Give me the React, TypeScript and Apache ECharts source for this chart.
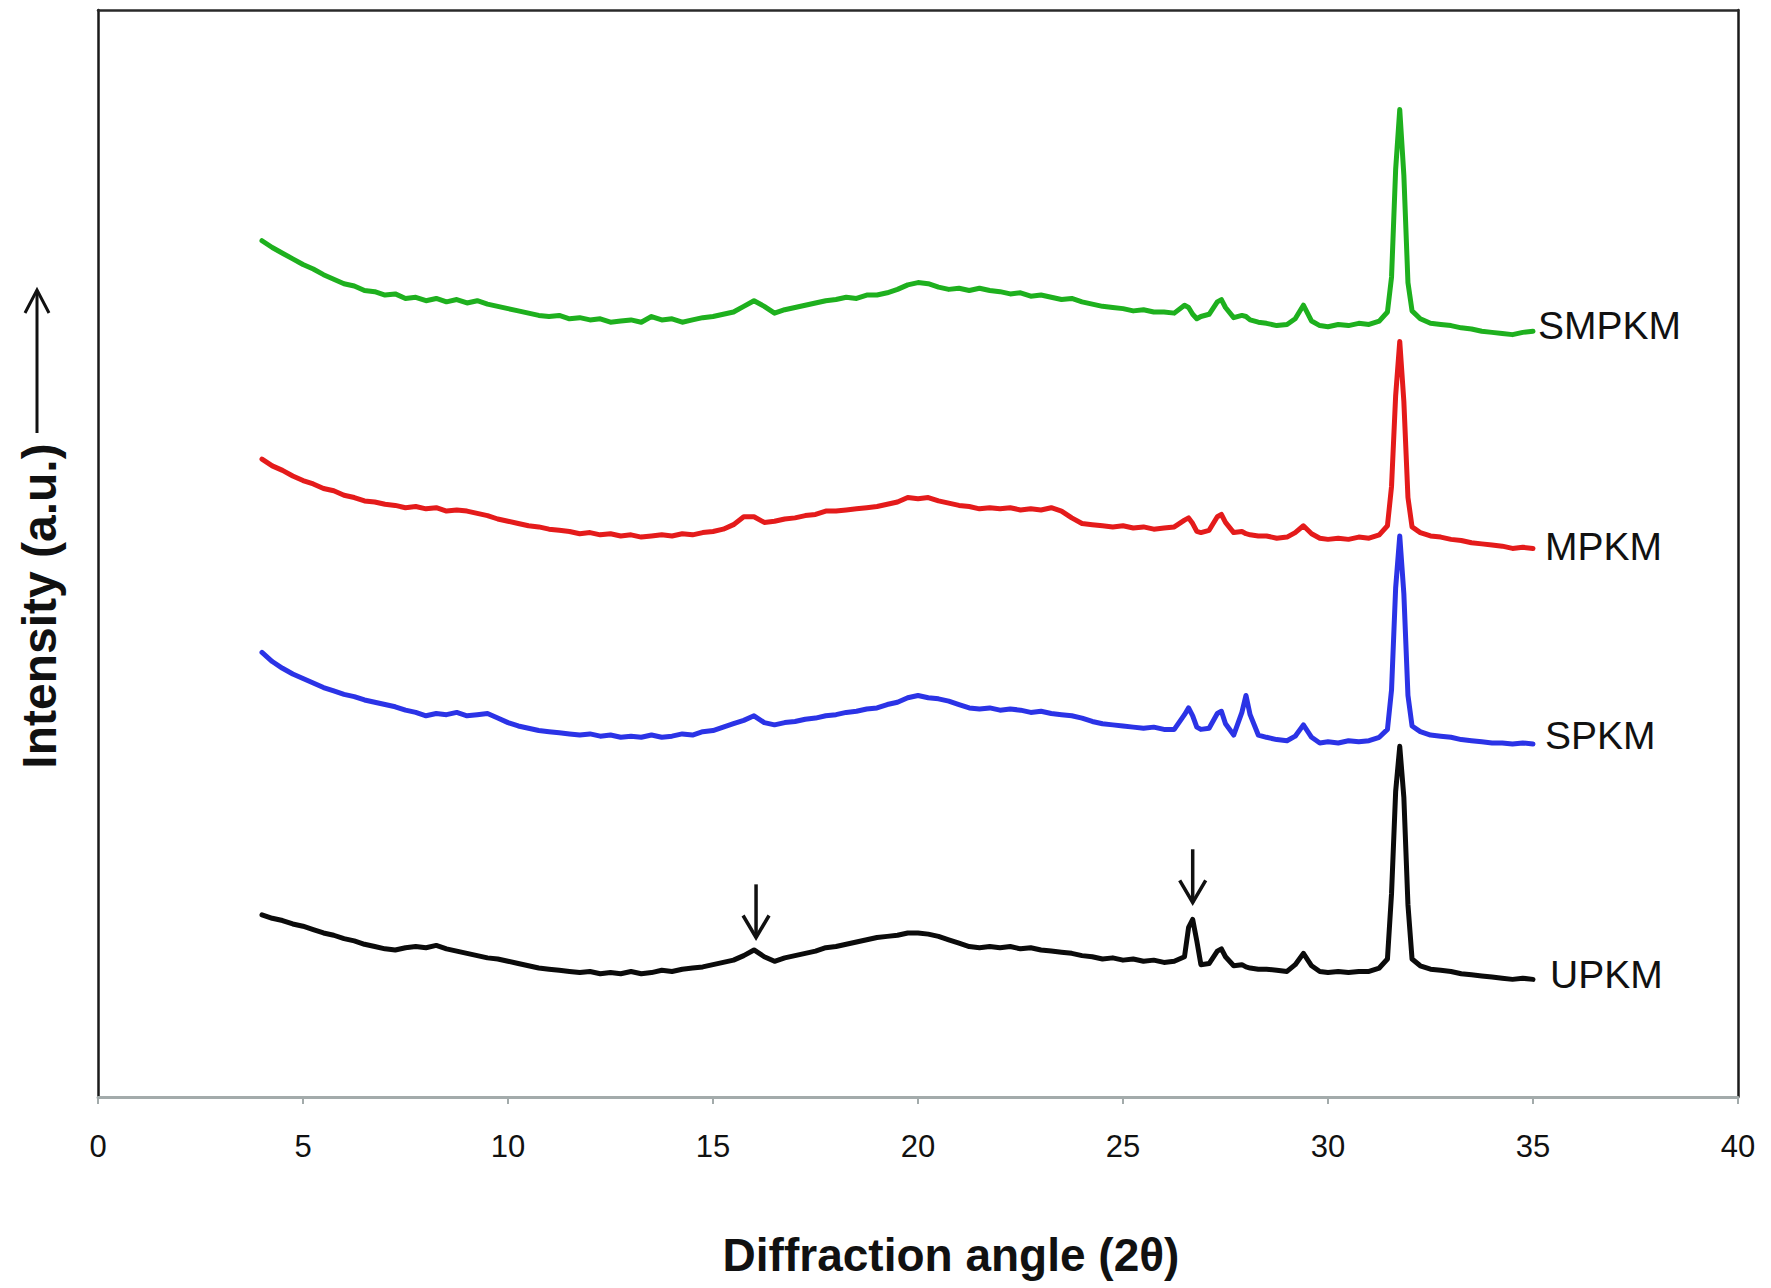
import React, { useEffect, useRef } from "react";
import * as echarts from "echarts";

// Diffraction angle (2θ) sampling positions
const angles = [
  4, 4.25, 4.5, 4.75, 5, 5.25, 5.5, 5.75, 6, 6.25,
  6.5, 6.75, 7, 7.25, 7.5, 7.75, 8, 8.25, 8.5, 8.75,
  9, 9.25, 9.5, 9.75, 10, 10.25, 10.5, 10.75, 11, 11.25,
  11.5, 11.75, 12, 12.25, 12.5, 12.75, 13, 13.25, 13.5, 13.75,
  14, 14.25, 14.5, 14.75, 15, 15.25, 15.5, 15.75, 16, 16.25,
  16.5, 16.75, 17, 17.25, 17.5, 17.75, 18, 18.25, 18.5, 18.75,
  19, 19.25, 19.5, 19.75, 20, 20.25, 20.5, 20.75, 21, 21.25,
  21.5, 21.75, 22, 22.25, 22.5, 22.75, 23, 23.25, 23.5, 23.75,
  24, 24.25, 24.5, 24.75, 25, 25.25, 25.5, 25.75, 26, 26.25,
  26.5, 26.6, 26.7, 26.8, 26.9, 27.1, 27.3, 27.4, 27.5, 27.7,
  27.9, 28, 28.1, 28.3, 28.5, 28.75, 29, 29.2, 29.4, 29.6,
  29.8, 30, 30.25, 30.5, 30.75, 31, 31.25, 31.45, 31.55, 31.65,
  31.75, 31.85, 31.95, 32.05, 32.25, 32.5, 32.75, 33, 33.25, 33.5,
  33.75, 34, 34.25, 34.5, 34.75, 35,
];

// Intensities (a.u., offset traces as drawn)
const smpkm = [
  757, 751, 746, 741, 736, 732, 727, 723, 719, 717,
  713, 712, 709, 710, 706, 707, 704, 706, 703, 705,
  702, 704, 701, 699, 697, 695, 693, 691, 690, 691,
  688, 689, 687, 688, 685, 686, 687, 685, 690, 687,
  688, 685, 687, 689, 690, 692, 694, 699, 704, 699,
  693, 696, 698, 700, 702, 704, 705, 707, 706, 709,
  709, 711, 714, 718, 720, 719, 716, 714, 715, 713,
  715, 713, 712, 710, 711, 708, 709, 707, 705, 706,
  703, 701, 699, 698, 697, 695, 696, 694, 694, 693,
  700, 698, 692, 688, 690, 692, 703, 705, 698, 689,
  691, 690, 687, 685, 684, 682, 683, 688, 700, 686,
  682, 681, 683, 682, 684, 683, 686, 694, 725, 820,
  873, 815, 720, 695, 688, 684, 683, 682, 680, 679,
  677, 676, 675, 674, 676, 677,
];

const mpkm = [
  564, 558, 554, 549, 545, 542, 538, 536, 532, 530,
  527, 526, 524, 523, 521, 522, 520, 521, 518, 519,
  518, 516, 514, 511, 509, 507, 505, 504, 502, 501,
  500, 498, 499, 497, 498, 496, 497, 495, 496, 497,
  496, 498, 497, 499, 500, 502, 506, 513, 513, 508,
  509, 511, 512, 514, 515, 518, 518, 519, 520, 521,
  522, 524, 526, 530, 529, 530, 527, 525, 523, 522,
  520, 521, 520, 521, 519, 520, 519, 521, 518, 512,
  507, 506, 505, 504, 505, 503, 504, 502, 503, 504,
  510, 512, 507, 500, 499, 501, 513, 515, 508, 499,
  500, 498, 497, 496, 496, 494, 495, 499, 505, 498,
  494, 493, 494, 493, 495, 494, 497, 505, 540, 620,
  668, 615, 530, 504, 499, 496, 495, 493, 492, 490,
  489, 488, 487, 485, 486, 485,
];

const spkm = [
  393, 385, 379, 374, 370, 366, 362, 359, 356, 354,
  351, 349, 347, 345, 342, 340, 337, 339, 338, 340,
  337, 338, 339, 335, 331, 328, 326, 324, 323, 322,
  321, 320, 321, 319, 320, 318, 319, 318, 320, 318,
  319, 321, 320, 323, 324, 327, 330, 333, 337, 331,
  329, 331, 332, 334, 335, 337, 338, 340, 341, 343,
  344, 347, 349, 353, 355, 353, 352, 350, 347, 344,
  343, 344, 342, 343, 342, 340, 341, 339, 338, 337,
  335, 332, 330, 329, 328, 327, 326, 327, 325, 325,
  338, 344, 337, 327, 325, 326, 339, 341, 330, 320,
  340, 355, 338, 320, 318, 316, 315, 319, 329, 318,
  313, 314, 313, 315, 314, 315, 318, 325, 360, 450,
  496, 445, 355, 328, 323, 320, 319, 318, 316, 315,
  314, 313, 313, 312, 313, 312,
];

const upkm = [
  161, 158, 156, 153, 151, 148, 145, 143, 140, 138,
  135, 133, 131, 130, 132, 133, 132, 134, 131, 129,
  127, 125, 123, 122, 120, 118, 116, 114, 113, 112,
  111, 110, 111, 109, 110, 109, 111, 109, 110, 112,
  111, 113, 114, 115, 117, 119, 121, 125, 130, 124,
  120, 123, 125, 127, 129, 132, 133, 135, 137, 139,
  141, 142, 143, 145, 145, 144, 142, 139, 136, 133,
  132, 133, 132, 133, 131, 132, 130, 129, 128, 127,
  125, 124, 122, 123, 121, 122, 120, 121, 119, 120,
  124, 150, 157, 138, 117, 118, 129, 131, 124, 116,
  117, 115, 114, 113, 113, 112, 111, 117, 127, 116,
  111, 110, 111, 110, 111, 111, 114, 122, 180, 270,
  310, 265, 170, 122, 116, 113, 112, 111, 109, 108,
  107, 106, 105, 104, 105, 104,
];

const seriesNames = ["UPKM", "SPKM", "MPKM", "SMPKM"];
const seriesColors = ["#0b0b0b", "#2b33e6", "#e41b1b", "#1eb01e"];
const labelGap = [17, 12, 12, 5];
const labelShift = [-5, -9, -2, -6];

// Annotation arrows (angle, start intensity, tip intensity)
const arrowAngles = [16.05, 26.7];
const arrowFrom = [188, 219];
const arrowTo = [141, 172];

const FONT = '"Liberation Sans", Arial, Helvetica, sans-serif';

export default function App() {
  const ref = useRef<HTMLDivElement>(null);

  useEffect(() => {
    if (!ref.current) return;
    const chart = echarts.init(ref.current, null, { renderer: "svg" });
    const all = [upkm, spkm, mpkm, smpkm];

    const series = all.map((vals, k) => ({
      type: "line",
      name: seriesNames[k],
      data: angles.map((a, i) => [a, vals[i]]),
      symbol: "none",
      showSymbol: false,
      smooth: false,
      silent: true,
      clip: false,
      lineStyle: { color: seriesColors[k], width: 5, join: "round", cap: "round" },
      itemStyle: { color: seriesColors[k] },
      endLabel: {
        show: true,
        formatter: "{a}",
        color: "#111",
        fontSize: 39,
        fontFamily: FONT,
        distance: labelGap[k],
        offset: [0, labelShift[k]],
      },
    }));

    chart.setOption({
      animation: false,
      backgroundColor: "#ffffff",
      grid: { left: 98, right: 33, top: 10, bottom: 191, containLabel: false },
      xAxis: [
        {
          type: "value",
          min: 0,
          max: 40,
          interval: 5,
          axisLine: { show: true, onZero: false, lineStyle: { color: "#a3abab", width: 3 } },
          axisTick: { show: true, length: 7, lineStyle: { color: "#a3abab", width: 2 } },
          axisLabel: { fontSize: 31, color: "#111", margin: 34, fontFamily: FONT },
          splitLine: { show: false },
        },
        {
          type: "value",
          position: "top",
          min: 0,
          max: 40,
          axisLine: { show: true, onZero: false, lineStyle: { color: "#2a2a2a", width: 2.5 } },
          axisTick: { show: false },
          axisLabel: { show: false },
          splitLine: { show: false },
        },
      ],
      yAxis: [
        {
          type: "value",
          min: 0,
          max: 961,
          axisLine: { show: true, onZero: false, lineStyle: { color: "#1a1a1a", width: 2.5 } },
          axisTick: { show: false },
          axisLabel: { show: false },
          splitLine: { show: false },
        },
        {
          type: "value",
          position: "right",
          min: 0,
          max: 961,
          axisLine: { show: true, onZero: false, lineStyle: { color: "#1a1a1a", width: 2.5 } },
          axisTick: { show: false },
          axisLabel: { show: false },
          splitLine: { show: false },
        },
      ],
      series,
    });

    const arrowEls: any[] = [];
    arrowAngles.forEach((a, i) => {
      const p0 = chart.convertToPixel({ gridIndex: 0 }, [a, arrowFrom[i]]) as number[];
      const p1 = chart.convertToPixel({ gridIndex: 0 }, [a, arrowTo[i]]) as number[];
      arrowEls.push({
        type: "line",
        silent: true,
        shape: { x1: p0[0], y1: p0[1], x2: p1[0], y2: p1[1] },
        style: { stroke: "#111", lineWidth: 3.5 },
      });
      arrowEls.push({
        type: "polyline",
        silent: true,
        shape: { points: [[p1[0] - 13, p1[1] - 22], [p1[0], p1[1]], [p1[0] + 13, p1[1] - 22]] },
        style: { stroke: "#111", lineWidth: 3.5, fill: null },
      });
    });

    chart.setOption({
      graphic: [
        ...arrowEls,
        {
          type: "text",
          silent: true,
          x: 951,
          y: 1255,
          style: {
            text: "Diffraction angle (2θ)",
            font: `bold 46px ${FONT}`,
            fill: "#111",
            textAlign: "center",
            textVerticalAlign: "middle",
          },
        },
        {
          type: "text",
          silent: true,
          x: 39,
          y: 606,
          rotation: Math.PI / 2,
          style: {
            text: "Intensity (a.u.)",
            font: `bold 48px ${FONT}`,
            fill: "#111",
            textAlign: "center",
            textVerticalAlign: "middle",
          },
        },
        {
          type: "line",
          silent: true,
          shape: { x1: 37, y1: 433, x2: 37, y2: 291 },
          style: { stroke: "#111", lineWidth: 3 },
        },
        {
          type: "polyline",
          silent: true,
          shape: { points: [[25, 313], [37, 290], [49, 313]] },
          style: { stroke: "#111", lineWidth: 3, fill: null },
        },
      ],
    });

    return () => chart.dispose();
  }, []);

  return (
    <div
      ref={ref}
      style={{ position: "fixed", left: 0, top: 0, width: 1771, height: 1288, background: "#fff" }}
    />
  );
}
